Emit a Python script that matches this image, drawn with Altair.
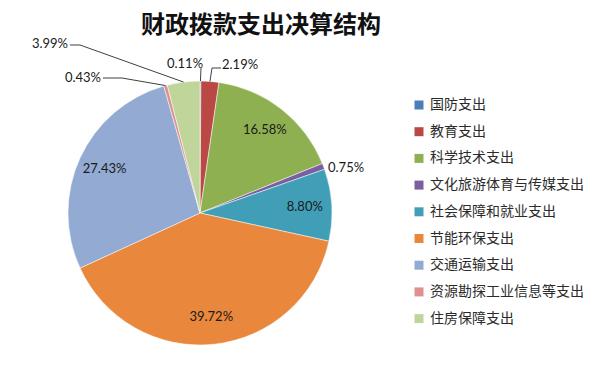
import math
import altair as alt
import pandas as pd

# ---------------- data ----------------
title_text = "财政拨款支出决算结构"
categories = ["国防支出", "教育支出", "科学技术支出", "文化旅游体育与传媒支出",
              "社会保障和就业支出", "节能环保支出", "交通运输支出",
              "资源勘探工业信息等支出", "住房保障支出"]
shares = [0.11, 2.19, 16.58, 0.75, 8.80, 39.72, 27.43, 0.43, 3.99]
colors = ["#4A7EBB", "#BA4845", "#8FB050", "#7B5EA0", "#409FB7",
          "#E9883D", "#93AAD3", "#DE8F8F", "#C0D599"]
inside = [False, False, True, False, True, True, True, False, False]

# ---------------- layout ----------------
TOP = 40
W, H = 584, 363 - TOP
CX, CY, R = 192, 205 - TOP, 132
IN_R = 105
# outside label placement (view px): label anchor and leader-line bend points
callouts = {
    0: dict(lx=177, ly=56 - TOP, align="center", bends=[(193, 60 - TOP)]),
    1: dict(lx=214, ly=57 - TOP, align="left", bends=[(204, 60 - TOP), (213, 60 - TOP)]),
    3: dict(lx=320, ly=160 - TOP, align="left", bends=[]),
    7: dict(lx=93, ly=70 - TOP, align="right", bends=[(114, 70 - TOP), (95, 70 - TOP)]),
    8: dict(lx=60, ly=36 - TOP, align="right", bends=[(72, 37 - TOP), (62, 37 - TOP)]),
}

labels = [f"{v:.2f}%" for v in shares]
df = pd.DataFrame({
    "cat": categories,
    "share": shares,
    "idx": list(range(len(categories))),
    "inlabel": [l if f else "" for l, f in zip(labels, inside)],
})

# leader lines and outside labels derived from slice mid-angles
total = sum(shares)
cum = 0.0
line_rows, text_rows = [], []
for i, v in enumerate(shares):
    mid = (cum + v / 2) / total * 2 * math.pi
    cum += v
    if i not in callouts:
        continue
    c = callouts[i]
    ex, ey = CX + R * math.sin(mid), CY - R * math.cos(mid)
    pts = [(ex, ey)] + c["bends"]
    if len(pts) > 1:
        for k, (px, py) in enumerate(pts):
            line_rows.append({"g": i, "o": k, "x": px, "y": py})
    text_rows.append({"x": c["lx"], "y": c["ly"], "t": labels[i], "align": c["align"]})

lines_df = pd.DataFrame(line_rows)
texts_df = pd.DataFrame(text_rows)

color_scale = alt.Scale(domain=categories, range=colors)

base = alt.Chart(df).encode(
    theta=alt.Theta("share:Q", stack=True),
    order=alt.Order("idx:Q"),
)

pie = base.mark_arc(radius=R, stroke="#ffffff", strokeWidth=0.5).encode(
    x=alt.value(CX), y=alt.value(CY),
    color=alt.Color(
        "cat:N", scale=color_scale, sort=categories, title=None,
        legend=alt.Legend(
            orient="none", legendX=404, legendY=90 - TOP, symbolType="square",
            symbolSize=81, symbolStrokeWidth=0, labelFontSize=14,
            labelFont="Noto Sans CJK SC", labelColor="#2b2b2b",
            rowPadding=12.7, padding=0, labelLimit=300, labelOffset=4,
        ),
    ),
)

in_text = base.mark_text(radius=IN_R, font="Lato", fontSize=13, color="#1a1a1a").encode(
    x=alt.value(CX), y=alt.value(CY), text="inlabel:N"
)

leader = alt.Chart(lines_df).mark_line(color="#404040", strokeWidth=1).encode(
    x=alt.X("x:Q", scale=None), y=alt.Y("y:Q", scale=None),
    detail="g:N", order="o:Q",
)

def out_text(al):
    sub = texts_df[texts_df["align"] == al]
    return alt.Chart(sub).mark_text(font="Lato", fontSize=13, color="#1a1a1a",
                                    align=al, baseline="middle").encode(
        x=alt.X("x:Q", scale=None), y=alt.Y("y:Q", scale=None), text="t:N")

chart = alt.layer(pie, in_text, leader, out_text("left"), out_text("center"),
                  out_text("right")).properties(
    width=W, height=H,
    padding={"top": TOP, "left": 0, "right": 0, "bottom": 0},
    autosize=alt.AutoSizeParams(type="none"),
    title=alt.TitleParams(
        title_text, font="Noto Sans CJK SC", fontSize=24, fontWeight="bold",
        color="#111111", anchor="middle", dx=-39, offset=0,
    ),
).configure_view(stroke=None)

chart.save("out.html", embed_options={"renderer": "svg", "actions": False})
